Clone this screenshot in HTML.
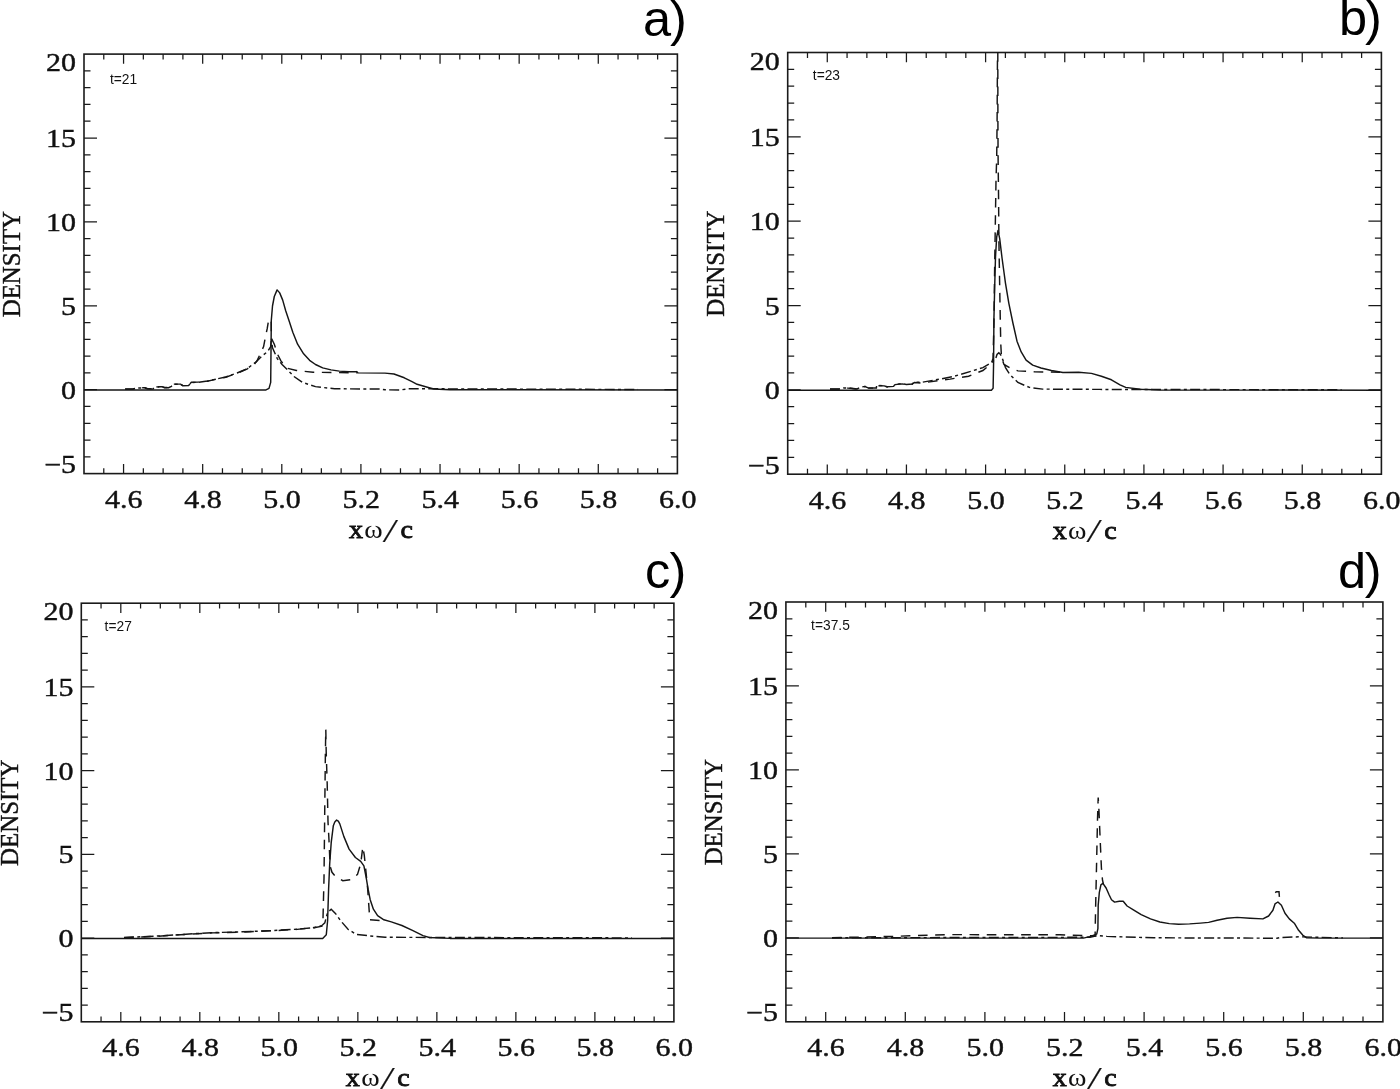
<!DOCTYPE html>
<html lang="en"><head><meta charset="utf-8"><title>Density profiles</title>
<style>html,body{margin:0;padding:0;background:#fff;}body{width:1400px;height:1089px;overflow:hidden;}svg{display:block;}.ax{font-family:"Liberation Serif", serif;font-size:25px;fill:#111;stroke:#111;stroke-width:0.4px;}.bx{stroke-width:0.8px;}.om{stroke-width:0;}.sl{font-style:italic;font-size:34px;stroke-width:0.2px;}.sm{font-family:"Liberation Sans", sans-serif;font-size:14px;fill:#111;}.pl{font-family:"Liberation Sans", sans-serif;font-size:50.5px;fill:#000;}.box{fill:none;stroke:#1a1a1a;stroke-width:1.6;}.tk{stroke:#1a1a1a;stroke-width:1.25;fill:none;}.c{fill:none;stroke:#151515;stroke-width:1.45;stroke-linejoin:round;}.c2{fill:none;stroke:#151515;stroke-width:1.45;stroke-dasharray:9.6 7.6;}.c3{fill:none;stroke:#151515;stroke-width:1.45;stroke-dasharray:10 3.3 3 3.3;}</style></head><body>
<svg width="1400" height="1089" viewBox="0 0 1400 1089">
<rect x="0" y="0" width="1400" height="1089" fill="#fff"/>
<g id="panel-a">
<rect class="box" x="84.00" y="54.10" width="593.40" height="419.50"/>
<path class="tk" d="M103.78 54.10v5.40M103.78 473.60v-5.40M123.56 54.10v9.70M123.56 473.60v-9.70M143.34 54.10v5.40M143.34 473.60v-5.40M163.12 54.10v5.40M163.12 473.60v-5.40M182.90 54.10v5.40M182.90 473.60v-5.40M202.68 54.10v9.70M202.68 473.60v-9.70M222.46 54.10v5.40M222.46 473.60v-5.40M242.24 54.10v5.40M242.24 473.60v-5.40M262.02 54.10v5.40M262.02 473.60v-5.40M281.80 54.10v9.70M281.80 473.60v-9.70M301.58 54.10v5.40M301.58 473.60v-5.40M321.36 54.10v5.40M321.36 473.60v-5.40M341.14 54.10v5.40M341.14 473.60v-5.40M360.92 54.10v9.70M360.92 473.60v-9.70M380.70 54.10v5.40M380.70 473.60v-5.40M400.48 54.10v5.40M400.48 473.60v-5.40M420.26 54.10v5.40M420.26 473.60v-5.40M440.04 54.10v9.70M440.04 473.60v-9.70M459.82 54.10v5.40M459.82 473.60v-5.40M479.60 54.10v5.40M479.60 473.60v-5.40M499.38 54.10v5.40M499.38 473.60v-5.40M519.16 54.10v9.70M519.16 473.60v-9.70M538.94 54.10v5.40M538.94 473.60v-5.40M558.72 54.10v5.40M558.72 473.60v-5.40M578.50 54.10v5.40M578.50 473.60v-5.40M598.28 54.10v9.70M598.28 473.60v-9.70M618.06 54.10v5.40M618.06 473.60v-5.40M637.84 54.10v5.40M637.84 473.60v-5.40M657.62 54.10v5.40M657.62 473.60v-5.40M84.00 456.82h6.50M677.40 456.82h-6.50M84.00 440.04h6.50M677.40 440.04h-6.50M84.00 423.26h6.50M677.40 423.26h-6.50M84.00 406.48h6.50M677.40 406.48h-6.50M84.00 389.70h13.00M677.40 389.70h-13.00M84.00 372.92h6.50M677.40 372.92h-6.50M84.00 356.14h6.50M677.40 356.14h-6.50M84.00 339.36h6.50M677.40 339.36h-6.50M84.00 322.58h6.50M677.40 322.58h-6.50M84.00 305.80h13.00M677.40 305.80h-13.00M84.00 289.02h6.50M677.40 289.02h-6.50M84.00 272.24h6.50M677.40 272.24h-6.50M84.00 255.46h6.50M677.40 255.46h-6.50M84.00 238.68h6.50M677.40 238.68h-6.50M84.00 221.90h13.00M677.40 221.90h-13.00M84.00 205.12h6.50M677.40 205.12h-6.50M84.00 188.34h6.50M677.40 188.34h-6.50M84.00 171.56h6.50M677.40 171.56h-6.50M84.00 154.78h6.50M677.40 154.78h-6.50M84.00 138.00h13.00M677.40 138.00h-13.00M84.00 121.22h6.50M677.40 121.22h-6.50M84.00 104.44h6.50M677.40 104.44h-6.50M84.00 87.66h6.50M677.40 87.66h-6.50M84.00 70.88h6.50M677.40 70.88h-6.50"/>
<text class="ax" transform="translate(123.86 508.40) scale(1.200 1)" text-anchor="middle">4.6</text>
<text class="ax" transform="translate(202.98 508.40) scale(1.200 1)" text-anchor="middle">4.8</text>
<text class="ax" transform="translate(282.10 508.40) scale(1.200 1)" text-anchor="middle">5.0</text>
<text class="ax" transform="translate(361.22 508.40) scale(1.200 1)" text-anchor="middle">5.2</text>
<text class="ax" transform="translate(440.34 508.40) scale(1.200 1)" text-anchor="middle">5.4</text>
<text class="ax" transform="translate(519.46 508.40) scale(1.200 1)" text-anchor="middle">5.6</text>
<text class="ax" transform="translate(598.58 508.40) scale(1.200 1)" text-anchor="middle">5.8</text>
<text class="ax" transform="translate(677.70 508.40) scale(1.200 1)" text-anchor="middle">6.0</text>
<text class="ax" transform="translate(76.10 71.10) scale(1.200 1)" text-anchor="end">20</text>
<text class="ax" transform="translate(76.10 147.00) scale(1.200 1)" text-anchor="end">15</text>
<text class="ax" transform="translate(76.10 230.90) scale(1.200 1)" text-anchor="end">10</text>
<text class="ax" transform="translate(76.10 314.80) scale(1.200 1)" text-anchor="end">5</text>
<text class="ax" transform="translate(76.10 398.70) scale(1.200 1)" text-anchor="end">0</text>
<text class="ax" transform="translate(76.10 473.30) scale(1.200 1)" text-anchor="end">−5</text>
<text class="ax" transform="translate(380.85 538.20) scale(1.120 1)" text-anchor="start"><tspan class="bx" x="-28.48">x</tspan><tspan class="om" x="-14.82">ω</tspan><tspan class="sl" x="3.21" dy="3.4">/</tspan><tspan class="bx" x="17.50" dy="-3.4">c</tspan></text>
<text class="ax" transform="translate(20.40 264.15) rotate(-90) scale(0.995 1)" text-anchor="middle">DENSITY</text>
<text class="sm" transform="translate(110.00 83.60) scale(0.985 1.09)">t=21</text>
<text class="pl" x="643.00" y="36.00" letter-spacing="-1.0">a)</text>
<polyline class="c3" points="125.1,389.1 133.1,389.1 137.1,388.0 145.1,388.0 147.4,388.8 153.1,389.1 154.3,386.8 162.3,387.0 164.6,387.7 168.6,387.7 171.4,386.3 173.7,384.3 180.6,384.3 182.9,385.7 188.6,385.5 191.4,382.5 198.3,382.3 207.4,381.0 225.7,377.0 237.1,373.0 247.4,368.5 255.8,362.1 261.8,356.2 267.8,351.4 270.7,346.6 271.3,338.2 272.5,347.8 277.3,358.6 282.1,364.5 288.1,370.5 294.0,376.5 302.4,382.4 315.5,386.6 334.6,388.8 380.0,389.0 385.0,389.8 400.0,390.0 408.0,388.8 430.0,388.8 637.8,389.5"/>
<polyline class="c2" points="125.1,388.9 133.1,388.9 137.1,387.8 145.1,387.8 147.4,388.6 153.1,388.9 154.3,386.6 162.3,386.8 164.6,387.5 168.6,387.5 171.4,386.1 173.7,384.1 180.6,384.1 182.9,385.5 188.6,385.3 191.4,382.3 198.3,382.1 207.4,381.3 214.3,379.6 225.7,377.3 237.1,373.3 247.4,368.8 254.3,364.2 257.0,360.9 263.6,346.6 265.4,337.1 267.2,328.7 268.4,321.5 270.2,318.7 271.2,322.2 271.4,338.2 274.3,344.2 277.3,353.8 280.9,360.9 286.9,368.1 296.4,370.5 313.1,372.3 339.4,372.6 357.3,372.8"/>
<polyline class="c" points="84.0,389.9 266.0,389.9 269.0,388.4 270.7,382.4 271.1,341.8 271.3,320.3 272.5,306.0 274.3,296.5 277.1,289.9 279.7,292.9 282.7,300.1 285.7,310.8 289.3,321.5 292.8,332.3 297.6,344.2 303.6,353.8 309.6,360.3 315.5,364.5 322.7,367.9 331.0,369.9 339.4,371.1 349.0,371.7 356.7,371.6 358.0,372.9 385.0,373.1 394.0,374.0 404.3,377.8 412.0,381.7 417.1,384.3 427.4,387.2 433.8,389.0 450.0,389.7 677.4,389.9"/>
</g>
<g id="panel-b">
<rect class="box" x="787.70" y="52.50" width="593.70" height="421.70"/>
<path class="tk" d="M807.49 52.50v5.40M807.49 474.20v-5.40M827.28 52.50v9.70M827.28 474.20v-9.70M847.07 52.50v5.40M847.07 474.20v-5.40M866.86 52.50v5.40M866.86 474.20v-5.40M886.65 52.50v5.40M886.65 474.20v-5.40M906.44 52.50v9.70M906.44 474.20v-9.70M926.23 52.50v5.40M926.23 474.20v-5.40M946.02 52.50v5.40M946.02 474.20v-5.40M965.81 52.50v5.40M965.81 474.20v-5.40M985.60 52.50v9.70M985.60 474.20v-9.70M1005.39 52.50v5.40M1005.39 474.20v-5.40M1025.18 52.50v5.40M1025.18 474.20v-5.40M1044.97 52.50v5.40M1044.97 474.20v-5.40M1064.76 52.50v9.70M1064.76 474.20v-9.70M1084.55 52.50v5.40M1084.55 474.20v-5.40M1104.34 52.50v5.40M1104.34 474.20v-5.40M1124.13 52.50v5.40M1124.13 474.20v-5.40M1143.92 52.50v9.70M1143.92 474.20v-9.70M1163.71 52.50v5.40M1163.71 474.20v-5.40M1183.50 52.50v5.40M1183.50 474.20v-5.40M1203.29 52.50v5.40M1203.29 474.20v-5.40M1223.08 52.50v9.70M1223.08 474.20v-9.70M1242.87 52.50v5.40M1242.87 474.20v-5.40M1262.66 52.50v5.40M1262.66 474.20v-5.40M1282.45 52.50v5.40M1282.45 474.20v-5.40M1302.24 52.50v9.70M1302.24 474.20v-9.70M1322.03 52.50v5.40M1322.03 474.20v-5.40M1341.82 52.50v5.40M1341.82 474.20v-5.40M1361.61 52.50v5.40M1361.61 474.20v-5.40M787.70 457.33h6.50M1381.40 457.33h-6.50M787.70 440.46h6.50M1381.40 440.46h-6.50M787.70 423.60h6.50M1381.40 423.60h-6.50M787.70 406.73h6.50M1381.40 406.73h-6.50M787.70 389.86h13.00M1381.40 389.86h-13.00M787.70 372.99h6.50M1381.40 372.99h-6.50M787.70 356.12h6.50M1381.40 356.12h-6.50M787.70 339.26h6.50M1381.40 339.26h-6.50M787.70 322.39h6.50M1381.40 322.39h-6.50M787.70 305.52h13.00M1381.40 305.52h-13.00M787.70 288.65h6.50M1381.40 288.65h-6.50M787.70 271.78h6.50M1381.40 271.78h-6.50M787.70 254.92h6.50M1381.40 254.92h-6.50M787.70 238.05h6.50M1381.40 238.05h-6.50M787.70 221.18h13.00M1381.40 221.18h-13.00M787.70 204.31h6.50M1381.40 204.31h-6.50M787.70 187.44h6.50M1381.40 187.44h-6.50M787.70 170.58h6.50M1381.40 170.58h-6.50M787.70 153.71h6.50M1381.40 153.71h-6.50M787.70 136.84h13.00M1381.40 136.84h-13.00M787.70 119.97h6.50M1381.40 119.97h-6.50M787.70 103.10h6.50M1381.40 103.10h-6.50M787.70 86.24h6.50M1381.40 86.24h-6.50M787.70 69.37h6.50M1381.40 69.37h-6.50"/>
<text class="ax" transform="translate(827.58 509.00) scale(1.200 1)" text-anchor="middle">4.6</text>
<text class="ax" transform="translate(906.74 509.00) scale(1.200 1)" text-anchor="middle">4.8</text>
<text class="ax" transform="translate(985.90 509.00) scale(1.200 1)" text-anchor="middle">5.0</text>
<text class="ax" transform="translate(1065.06 509.00) scale(1.200 1)" text-anchor="middle">5.2</text>
<text class="ax" transform="translate(1144.22 509.00) scale(1.200 1)" text-anchor="middle">5.4</text>
<text class="ax" transform="translate(1223.38 509.00) scale(1.200 1)" text-anchor="middle">5.6</text>
<text class="ax" transform="translate(1302.54 509.00) scale(1.200 1)" text-anchor="middle">5.8</text>
<text class="ax" transform="translate(1381.70 509.00) scale(1.200 1)" text-anchor="middle">6.0</text>
<text class="ax" transform="translate(779.80 69.50) scale(1.200 1)" text-anchor="end">20</text>
<text class="ax" transform="translate(779.80 145.84) scale(1.200 1)" text-anchor="end">15</text>
<text class="ax" transform="translate(779.80 230.18) scale(1.200 1)" text-anchor="end">10</text>
<text class="ax" transform="translate(779.80 314.52) scale(1.200 1)" text-anchor="end">5</text>
<text class="ax" transform="translate(779.80 398.86) scale(1.200 1)" text-anchor="end">0</text>
<text class="ax" transform="translate(779.80 473.90) scale(1.200 1)" text-anchor="end">−5</text>
<text class="ax" transform="translate(1084.70 538.80) scale(1.120 1)" text-anchor="start"><tspan class="bx" x="-28.48">x</tspan><tspan class="om" x="-14.82">ω</tspan><tspan class="sl" x="3.21" dy="3.4">/</tspan><tspan class="bx" x="17.50" dy="-3.4">c</tspan></text>
<text class="ax" transform="translate(724.10 263.65) rotate(-90) scale(0.995 1)" text-anchor="middle">DENSITY</text>
<text class="sm" transform="translate(812.80 80.00) scale(0.985 1.09)">t=23</text>
<text class="pl" x="1339.00" y="35.40" letter-spacing="-2.1">b)</text>
<polyline class="c3" points="830.0,388.9 839.3,388.9 843.6,387.9 847.9,387.9 857.1,388.9 860.7,387.1 865.0,386.4 868.6,387.9 876.4,387.9 876.6,385.5 884.3,385.7 887.1,386.8 893.6,386.4 895.0,384.4 902.1,383.7 906.4,384.4 912.1,384.0 914.3,382.2 921.4,382.4 940.0,379.1 954.3,376.2 971.4,371.2 982.9,367.6 991.4,362.6 995.5,359.3 997.0,354.5 998.8,352.7 1000.5,354.5 1002.1,357.7 1005.5,367.6 1009.6,374.2 1017.9,382.5 1029.4,387.4 1042.6,389.1 1100.0,389.4 1341.6,389.8"/>
<polyline class="c2" points="830.0,389.1 839.3,389.1 843.6,388.1 847.9,388.1 857.1,389.1 860.7,387.3 865.0,386.6 868.6,388.1 876.4,388.1 876.6,385.7 884.3,385.9 887.1,387.0 893.6,386.6 895.0,384.6 902.1,383.9 906.4,384.6 912.1,384.2 914.3,382.5 921.4,383.1 940.0,380.3 950.0,379.1 968.6,376.2 982.9,370.5 991.4,363.4 993.0,358.5 993.5,340.5 994.0,320.5 994.6,270.5 995.3,225.5 996.0,180.5 996.7,157.5 997.1,120.5 997.5,52.6 997.8,52.6 997.9,120.5 998.1,157.5 998.6,200.5 998.9,240.5 999.7,286.5 1000.3,320.5 1000.8,344.5 1001.5,357.5 1004.0,364.5 1009.6,367.6 1017.9,370.9 1034.4,371.7 1060.0,372.3"/>
<polyline class="c" points="787.8,390.2 991.4,390.2 993.1,388.3 993.6,362.6 993.9,319.7 994.7,286.6 995.5,256.9 996.7,237.0 998.0,230.4 999.7,238.7 1002.1,258.5 1005.5,283.3 1008.8,303.1 1012.9,323.0 1017.0,341.2 1021.2,351.9 1026.1,360.2 1032.7,365.1 1041.0,368.0 1051.4,370.5 1062.9,372.5 1078.6,372.2 1091.4,373.4 1101.4,376.2 1111.4,379.8 1120.0,384.8 1125.7,387.4 1140.0,389.3 1160.0,390.0 1381.4,390.2"/>
</g>
<g id="panel-c">
<rect class="box" x="81.30" y="603.20" width="592.60" height="418.60"/>
<path class="tk" d="M101.05 603.20v5.40M101.05 1021.80v-5.40M120.81 603.20v9.70M120.81 1021.80v-9.70M140.56 603.20v5.40M140.56 1021.80v-5.40M160.31 603.20v5.40M160.31 1021.80v-5.40M180.07 603.20v5.40M180.07 1021.80v-5.40M199.82 603.20v9.70M199.82 1021.80v-9.70M219.57 603.20v5.40M219.57 1021.80v-5.40M239.33 603.20v5.40M239.33 1021.80v-5.40M259.08 603.20v5.40M259.08 1021.80v-5.40M278.83 603.20v9.70M278.83 1021.80v-9.70M298.59 603.20v5.40M298.59 1021.80v-5.40M318.34 603.20v5.40M318.34 1021.80v-5.40M338.09 603.20v5.40M338.09 1021.80v-5.40M357.85 603.20v9.70M357.85 1021.80v-9.70M377.60 603.20v5.40M377.60 1021.80v-5.40M397.35 603.20v5.40M397.35 1021.80v-5.40M417.11 603.20v5.40M417.11 1021.80v-5.40M436.86 603.20v9.70M436.86 1021.80v-9.70M456.61 603.20v5.40M456.61 1021.80v-5.40M476.37 603.20v5.40M476.37 1021.80v-5.40M496.12 603.20v5.40M496.12 1021.80v-5.40M515.87 603.20v9.70M515.87 1021.80v-9.70M535.63 603.20v5.40M535.63 1021.80v-5.40M555.38 603.20v5.40M555.38 1021.80v-5.40M575.13 603.20v5.40M575.13 1021.80v-5.40M594.89 603.20v9.70M594.89 1021.80v-9.70M614.64 603.20v5.40M614.64 1021.80v-5.40M634.39 603.20v5.40M634.39 1021.80v-5.40M654.15 603.20v5.40M654.15 1021.80v-5.40M81.30 1005.06h6.50M673.90 1005.06h-6.50M81.30 988.31h6.50M673.90 988.31h-6.50M81.30 971.57h6.50M673.90 971.57h-6.50M81.30 954.82h6.50M673.90 954.82h-6.50M81.30 938.08h13.00M673.90 938.08h-13.00M81.30 921.34h6.50M673.90 921.34h-6.50M81.30 904.59h6.50M673.90 904.59h-6.50M81.30 887.85h6.50M673.90 887.85h-6.50M81.30 871.10h6.50M673.90 871.10h-6.50M81.30 854.36h13.00M673.90 854.36h-13.00M81.30 837.62h6.50M673.90 837.62h-6.50M81.30 820.87h6.50M673.90 820.87h-6.50M81.30 804.13h6.50M673.90 804.13h-6.50M81.30 787.38h6.50M673.90 787.38h-6.50M81.30 770.64h13.00M673.90 770.64h-13.00M81.30 753.90h6.50M673.90 753.90h-6.50M81.30 737.15h6.50M673.90 737.15h-6.50M81.30 720.41h6.50M673.90 720.41h-6.50M81.30 703.66h6.50M673.90 703.66h-6.50M81.30 686.92h13.00M673.90 686.92h-13.00M81.30 670.18h6.50M673.90 670.18h-6.50M81.30 653.43h6.50M673.90 653.43h-6.50M81.30 636.69h6.50M673.90 636.69h-6.50M81.30 619.94h6.50M673.90 619.94h-6.50"/>
<text class="ax" transform="translate(121.11 1055.80) scale(1.200 1)" text-anchor="middle">4.6</text>
<text class="ax" transform="translate(200.12 1055.80) scale(1.200 1)" text-anchor="middle">4.8</text>
<text class="ax" transform="translate(279.13 1055.80) scale(1.200 1)" text-anchor="middle">5.0</text>
<text class="ax" transform="translate(358.15 1055.80) scale(1.200 1)" text-anchor="middle">5.2</text>
<text class="ax" transform="translate(437.16 1055.80) scale(1.200 1)" text-anchor="middle">5.4</text>
<text class="ax" transform="translate(516.17 1055.80) scale(1.200 1)" text-anchor="middle">5.6</text>
<text class="ax" transform="translate(595.19 1055.80) scale(1.200 1)" text-anchor="middle">5.8</text>
<text class="ax" transform="translate(674.20 1055.80) scale(1.200 1)" text-anchor="middle">6.0</text>
<text class="ax" transform="translate(73.40 620.20) scale(1.200 1)" text-anchor="end">20</text>
<text class="ax" transform="translate(73.40 695.92) scale(1.200 1)" text-anchor="end">15</text>
<text class="ax" transform="translate(73.40 779.64) scale(1.200 1)" text-anchor="end">10</text>
<text class="ax" transform="translate(73.40 863.36) scale(1.200 1)" text-anchor="end">5</text>
<text class="ax" transform="translate(73.40 947.08) scale(1.200 1)" text-anchor="end">0</text>
<text class="ax" transform="translate(73.40 1020.70) scale(1.200 1)" text-anchor="end">−5</text>
<text class="ax" transform="translate(377.75 1086.40) scale(1.120 1)" text-anchor="start"><tspan class="bx" x="-28.48">x</tspan><tspan class="om" x="-14.82">ω</tspan><tspan class="sl" x="3.21" dy="3.4">/</tspan><tspan class="bx" x="17.50" dy="-3.4">c</tspan></text>
<text class="ax" transform="translate(17.70 812.80) rotate(-90) scale(0.995 1)" text-anchor="middle">DENSITY</text>
<text class="sm" transform="translate(104.60 630.60) scale(0.985 1.09)">t=27</text>
<text class="pl" x="645.00" y="587.90" letter-spacing="-0.7">c)</text>
<polyline class="c3" points="124.0,937.5 156.6,936.1 189.1,934.0 211.4,932.7 242.3,931.8 271.4,930.6 297.1,929.2 314.3,927.5 321.7,925.7 324.8,922.9 327.6,912.4 331.2,909.2 335.4,913.4 340.7,920.8 348.0,929.3 356.5,934.5 370.2,935.9 385.0,937.3 450.0,937.5 632.0,937.9"/>
<polyline class="c2" points="124.0,937.7 156.6,936.3 189.1,934.2 211.4,932.9 242.3,932.0 271.4,930.8 297.1,929.4 314.3,927.7 321.9,926.1 323.0,918.7 324.0,878.6 324.8,804.7 325.4,752.0 325.8,729.3 326.2,752.0 327.2,783.6 328.0,821.6 329.0,840.3 330.1,866.0 332.0,872.3 335.4,876.5 342.8,880.7 351.2,879.7 357.5,874.4 360.7,863.8 362.8,846.9 364.3,855.4 365.6,868.1 367.7,889.2 369.8,919.8 385.0,920.8"/>
<polyline class="c" points="81.4,938.4 322.7,938.4 326.3,934.8 327.6,920.8 328.6,889.2 329.7,863.8 331.2,842.7 333.3,825.8 334.8,821.9 336.6,820.1 338.3,821.2 339.8,823.9 343.8,836.4 349.1,849.1 355.4,857.5 360.7,861.3 363.9,865.9 366.0,876.5 368.1,889.2 370.2,899.7 373.4,909.2 377.6,915.6 383.9,919.8 391.3,921.9 401.9,925.5 412.4,930.3 423.0,935.6 429.3,937.5 450.0,938.4 673.9,938.4"/>
</g>
<g id="panel-d">
<rect class="box" x="785.90" y="602.00" width="597.00" height="419.80"/>
<path class="tk" d="M805.80 602.00v5.40M805.80 1021.80v-5.40M825.70 602.00v9.70M825.70 1021.80v-9.70M845.60 602.00v5.40M845.60 1021.80v-5.40M865.50 602.00v5.40M865.50 1021.80v-5.40M885.40 602.00v5.40M885.40 1021.80v-5.40M905.30 602.00v9.70M905.30 1021.80v-9.70M925.20 602.00v5.40M925.20 1021.80v-5.40M945.10 602.00v5.40M945.10 1021.80v-5.40M965.00 602.00v5.40M965.00 1021.80v-5.40M984.90 602.00v9.70M984.90 1021.80v-9.70M1004.80 602.00v5.40M1004.80 1021.80v-5.40M1024.70 602.00v5.40M1024.70 1021.80v-5.40M1044.60 602.00v5.40M1044.60 1021.80v-5.40M1064.50 602.00v9.70M1064.50 1021.80v-9.70M1084.40 602.00v5.40M1084.40 1021.80v-5.40M1104.30 602.00v5.40M1104.30 1021.80v-5.40M1124.20 602.00v5.40M1124.20 1021.80v-5.40M1144.10 602.00v9.70M1144.10 1021.80v-9.70M1164.00 602.00v5.40M1164.00 1021.80v-5.40M1183.90 602.00v5.40M1183.90 1021.80v-5.40M1203.80 602.00v5.40M1203.80 1021.80v-5.40M1223.70 602.00v9.70M1223.70 1021.80v-9.70M1243.60 602.00v5.40M1243.60 1021.80v-5.40M1263.50 602.00v5.40M1263.50 1021.80v-5.40M1283.40 602.00v5.40M1283.40 1021.80v-5.40M1303.30 602.00v9.70M1303.30 1021.80v-9.70M1323.20 602.00v5.40M1323.20 1021.80v-5.40M1343.10 602.00v5.40M1343.10 1021.80v-5.40M1363.00 602.00v5.40M1363.00 1021.80v-5.40M785.90 1005.01h6.50M1382.90 1005.01h-6.50M785.90 988.22h6.50M1382.90 988.22h-6.50M785.90 971.42h6.50M1382.90 971.42h-6.50M785.90 954.63h6.50M1382.90 954.63h-6.50M785.90 937.84h13.00M1382.90 937.84h-13.00M785.90 921.05h6.50M1382.90 921.05h-6.50M785.90 904.26h6.50M1382.90 904.26h-6.50M785.90 887.46h6.50M1382.90 887.46h-6.50M785.90 870.67h6.50M1382.90 870.67h-6.50M785.90 853.88h13.00M1382.90 853.88h-13.00M785.90 837.09h6.50M1382.90 837.09h-6.50M785.90 820.30h6.50M1382.90 820.30h-6.50M785.90 803.50h6.50M1382.90 803.50h-6.50M785.90 786.71h6.50M1382.90 786.71h-6.50M785.90 769.92h13.00M1382.90 769.92h-13.00M785.90 753.13h6.50M1382.90 753.13h-6.50M785.90 736.34h6.50M1382.90 736.34h-6.50M785.90 719.54h6.50M1382.90 719.54h-6.50M785.90 702.75h6.50M1382.90 702.75h-6.50M785.90 685.96h13.00M1382.90 685.96h-13.00M785.90 669.17h6.50M1382.90 669.17h-6.50M785.90 652.38h6.50M1382.90 652.38h-6.50M785.90 635.58h6.50M1382.90 635.58h-6.50M785.90 618.79h6.50M1382.90 618.79h-6.50"/>
<text class="ax" transform="translate(826.00 1055.80) scale(1.200 1)" text-anchor="middle">4.6</text>
<text class="ax" transform="translate(905.60 1055.80) scale(1.200 1)" text-anchor="middle">4.8</text>
<text class="ax" transform="translate(985.20 1055.80) scale(1.200 1)" text-anchor="middle">5.0</text>
<text class="ax" transform="translate(1064.80 1055.80) scale(1.200 1)" text-anchor="middle">5.2</text>
<text class="ax" transform="translate(1144.40 1055.80) scale(1.200 1)" text-anchor="middle">5.4</text>
<text class="ax" transform="translate(1224.00 1055.80) scale(1.200 1)" text-anchor="middle">5.6</text>
<text class="ax" transform="translate(1303.60 1055.80) scale(1.200 1)" text-anchor="middle">5.8</text>
<text class="ax" transform="translate(1383.20 1055.80) scale(1.200 1)" text-anchor="middle">6.0</text>
<text class="ax" transform="translate(778.00 619.00) scale(1.200 1)" text-anchor="end">20</text>
<text class="ax" transform="translate(778.00 694.96) scale(1.200 1)" text-anchor="end">15</text>
<text class="ax" transform="translate(778.00 778.92) scale(1.200 1)" text-anchor="end">10</text>
<text class="ax" transform="translate(778.00 862.88) scale(1.200 1)" text-anchor="end">5</text>
<text class="ax" transform="translate(778.00 946.84) scale(1.200 1)" text-anchor="end">0</text>
<text class="ax" transform="translate(778.00 1020.70) scale(1.200 1)" text-anchor="end">−5</text>
<text class="ax" transform="translate(1084.55 1086.40) scale(1.120 1)" text-anchor="start"><tspan class="bx" x="-28.48">x</tspan><tspan class="om" x="-14.82">ω</tspan><tspan class="sl" x="3.21" dy="3.4">/</tspan><tspan class="bx" x="17.50" dy="-3.4">c</tspan></text>
<text class="ax" transform="translate(722.30 812.20) rotate(-90) scale(0.995 1)" text-anchor="middle">DENSITY</text>
<text class="sm" transform="translate(811.10 629.80) scale(0.985 1.09)">t=37.5</text>
<text class="pl" x="1338.00" y="587.90" letter-spacing="-1.4">d)</text>
<polyline class="c3" points="832.0,937.8 1090.0,937.3 1097.5,935.6 1106.8,936.4 1153.7,937.8 1277.0,938.2 1280.0,937.5 1300.0,936.8 1343.0,937.9"/>
<polyline class="c2" points="832.0,937.7 892.0,936.4 950.0,934.6 1060.0,934.8 1085.0,935.6 1095.1,935.9 1095.6,908.3 1096.7,858.3 1097.5,819.3 1098.2,797.5 1099.0,811.5 1100.3,842.7 1101.4,867.7 1102.5,880.2 1103.5,884.3"/>
<polyline class="c2" points="1275.4,892.9 1276.2,891.7 1279.0,891.7 1279.4,896.9"/>
<polyline class="c" points="785.7,938.1 1083.4,938.1 1089.7,936.6 1096.7,934.1 1097.9,928.6 1098.2,905.2 1099.3,892.7 1100.9,884.9 1102.9,883.3 1106.1,888.0 1109.2,895.0 1111.5,899.7 1114.6,902.1 1119.3,901.3 1123.2,901.3 1127.1,906.0 1133.4,909.9 1141.2,914.6 1150.5,918.9 1159.9,922.0 1169.3,923.6 1178.6,924.2 1189.6,923.9 1200.5,923.1 1208.6,922.4 1217.1,920.3 1227.1,918.2 1237.1,917.4 1250.0,918.2 1262.9,918.9 1268.6,916.0 1272.9,910.3 1275.0,903.9 1277.9,902.0 1281.4,905.3 1285.0,913.2 1289.3,918.9 1294.3,923.2 1298.6,930.3 1302.9,935.3 1306.4,937.7 1320.0,938.1 1382.9,938.1"/>
</g>
</svg></body></html>
